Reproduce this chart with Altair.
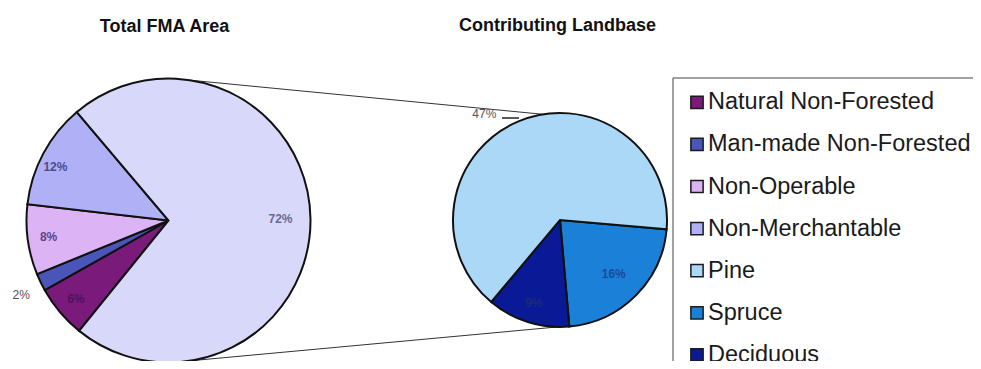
import math
import altair as alt
import pandas as pd

# ---------------- data ----------------
TITLE_LEFT = "Total FMA Area"
TITLE_RIGHT = "Contributing Landbase"

LEFT_CATS = ["Natural Non-Forested", "Man-made Non-Forested", "Non-Operable",
             "Non-Merchantable", "Contributing Landbase"]
LEFT_VALUES = [6, 2, 8, 12, 72]

RIGHT_CATS = ["Spruce", "Deciduous", "Pine"]
RIGHT_VALUES = [16, 9, 47]

LEGEND_CATS = ["Natural Non-Forested", "Man-made Non-Forested", "Non-Operable",
               "Non-Merchantable", "Pine", "Spruce", "Deciduous"]

# ---------------- styles ----------------
COLOR_DOMAIN = LEGEND_CATS + ["Contributing Landbase"]
COLOR_RANGE = ["#7a1a7a", "#4a55b8", "#dcb4f6", "#b0b0f6",
               "#acd8f8", "#1a80d8", "#0a1a96", "#d8d8fa"]
color_scale = alt.Scale(domain=COLOR_DOMAIN, range=COLOR_RANGE)

LABEL_COLOR = {"Natural Non-Forested": "#4a1460", "Man-made Non-Forested": "#505050",
               "Non-Operable": "#5a4585", "Non-Merchantable": "#4c4c8c",
               "Contributing Landbase": "#6a6a96",
               "Spruce": "#1a4c96", "Deciduous": "#1a2a7c", "Pine": "#555555"}

FONT = "Liberation Sans"
W, H = 965, 353
LCX, LCY, LR = 160.5, 212.5, 142
RCX, RCY, RR = 552, 212, 107
L_START = math.radians(219)
R_START = math.radians(95)

# ---------------- tables ----------------
left_df = pd.DataFrame({"cat": LEFT_CATS, "value": LEFT_VALUES,
                        "k": list(range(len(LEFT_CATS)))})
left_df["lab"] = [f"{v}%" for v in LEFT_VALUES]
left_df["lc"] = [LABEL_COLOR[c] for c in LEFT_CATS]

right_df = pd.DataFrame({"cat": RIGHT_CATS, "value": RIGHT_VALUES,
                         "k": list(range(len(RIGHT_CATS)))})
right_df["lab"] = [f"{v}%" for v in RIGHT_VALUES]
right_df["lc"] = [LABEL_COLOR[c] for c in RIGHT_CATS]

legend_df = pd.DataFrame({"cat": LEGEND_CATS, "row": list(range(len(LEGEND_CATS)))})

left_total = sum(LEFT_VALUES)
right_total = sum(RIGHT_VALUES)


def theta_enc(total, start):
    return alt.Theta("value:Q", stack=True,
                     scale=alt.Scale(domain=[0, total], range=[start, start + 2 * math.pi]))


dummy = alt.Data(values=[{"a": 1}])


def pt(cx, cy, r, deg):
    a = math.radians(deg)
    return cx + r * math.sin(a), cy - r * math.cos(a)


t1 = pt(LCX, LCY, LR, 9)
t2 = pt(RCX, RCY, RR, -9)
b1 = pt(LCX, LCY, LR, 171)
b2 = pt(RCX, RCY, RR, 181.5)

conn_top = alt.Chart(dummy).mark_rule(color="#333333", strokeWidth=1).encode(
    x=alt.value(t1[0]), y=alt.value(t1[1]), x2=alt.value(t2[0]), y2=alt.value(t2[1]))
conn_bot = alt.Chart(dummy).mark_rule(color="#333333", strokeWidth=1).encode(
    x=alt.value(b1[0]), y=alt.value(b1[1]), x2=alt.value(b2[0]), y2=alt.value(b2[1]))


def pie(df, total, start, cx, cy, r):
    return alt.Chart(df).mark_arc(radius=r, stroke="#111111", strokeWidth=2).encode(
        theta=theta_enc(total, start),
        order=alt.Order("k:Q"),
        color=alt.Color("cat:N", scale=color_scale, legend=None),
        x=alt.value(cx), y=alt.value(cy),
    )


def labels(df, total, start, cx, cy, radius, cats, offset_deg=0.0, weight="bold"):
    cond = " || ".join([f"datum.cat == '{c}'" for c in cats])
    mk = dict(font=FONT, fontSize=12, fontWeight=weight, align="center",
              baseline="middle", radius=radius)
    if offset_deg:
        mk["thetaOffset"] = math.radians(offset_deg)
    return alt.Chart(df).transform_calculate(
        show=f"({cond}) ? datum.lab : ''"
    ).mark_text(**mk).encode(
        theta=theta_enc(total, start),
        order=alt.Order("k:Q"),
        text="show:N",
        color=alt.Color("lc:N", scale=None),
        x=alt.value(cx), y=alt.value(cy),
    )


left_arc = pie(left_df, left_total, L_START, LCX, LCY, LR)
right_arc = pie(right_df, right_total, R_START, RCX, RCY, RR)

lt1 = labels(left_df, left_total, L_START, LCX, LCY, 121,
             ["Natural Non-Forested", "Non-Operable"])
lt1b = labels(left_df, left_total, L_START, LCX, LCY, 125, ["Non-Merchantable"], offset_deg=-3)
lt2 = labels(left_df, left_total, L_START, LCX, LCY, 165, ["Man-made Non-Forested"],
             offset_deg=-1, weight="normal")
lt3 = labels(left_df, left_total, L_START, LCX, LCY, 112, ["Contributing Landbase"])
rt1 = labels(right_df, right_total, R_START, RCX, RCY, 76, ["Spruce"])
rt2 = labels(right_df, right_total, R_START, RCX, RCY, 87, ["Deciduous"])
rt3 = labels(right_df, right_total, R_START, RCX, RCY, 130, ["Pine"], offset_deg=-13.1,
             weight="normal")

leader = alt.Chart(dummy).mark_rule(color="#222222", strokeWidth=1.5).encode(
    x=alt.value(494), x2=alt.value(511), y=alt.value(110), y2=alt.value(110))

title_l = alt.Chart(dummy).mark_text(text=TITLE_LEFT, font=FONT, fontSize=18, fontWeight="bold",
                                     align="center", baseline="alphabetic", color="#111111").encode(
    x=alt.value(156.5), y=alt.value(24))
title_r = alt.Chart(dummy).mark_text(text=TITLE_RIGHT, font=FONT, fontSize=18, fontWeight="bold",
                                     align="center", baseline="alphabetic", color="#111111").encode(
    x=alt.value(549.5), y=alt.value(23))

legend_box = alt.Chart(dummy).mark_rect(fill="white", stroke="#444444", strokeWidth=1).encode(
    x=alt.value(665), x2=alt.value(1010), y=alt.value(70), y2=alt.value(420))

row_y = alt.Y("row:Q", scale=alt.Scale(domain=[0, 6], range=[94.3, 94.3 + 6 * 42.1]), axis=None)
legend_sym = alt.Chart(legend_df).mark_square(size=150, stroke="#1a1a1a", strokeWidth=1.5,
                                              opacity=1).encode(
    x=alt.value(689), y=row_y,
    color=alt.Color("cat:N", scale=color_scale, legend=None),
)
legend_txt = alt.Chart(legend_df).mark_text(font=FONT, fontSize=23.5, align="left",
                                            baseline="middle", color="#1a1a1a").encode(
    x=alt.value(700), y=row_y, text="cat:N")

chart = alt.layer(
    conn_top, conn_bot,
    left_arc, right_arc,
    lt1, lt1b, lt2, lt3, rt1, rt2, rt3, leader,
    title_l, title_r,
    legend_box, legend_sym, legend_txt,
).resolve_scale(theta="independent").properties(
    width=W, height=H, autosize=alt.AutoSizeParams(type="none"), padding=0,
    background="white",
).configure_view(stroke=None)

chart.save("out.html", embed_options={"renderer": "svg", "actions": False})
